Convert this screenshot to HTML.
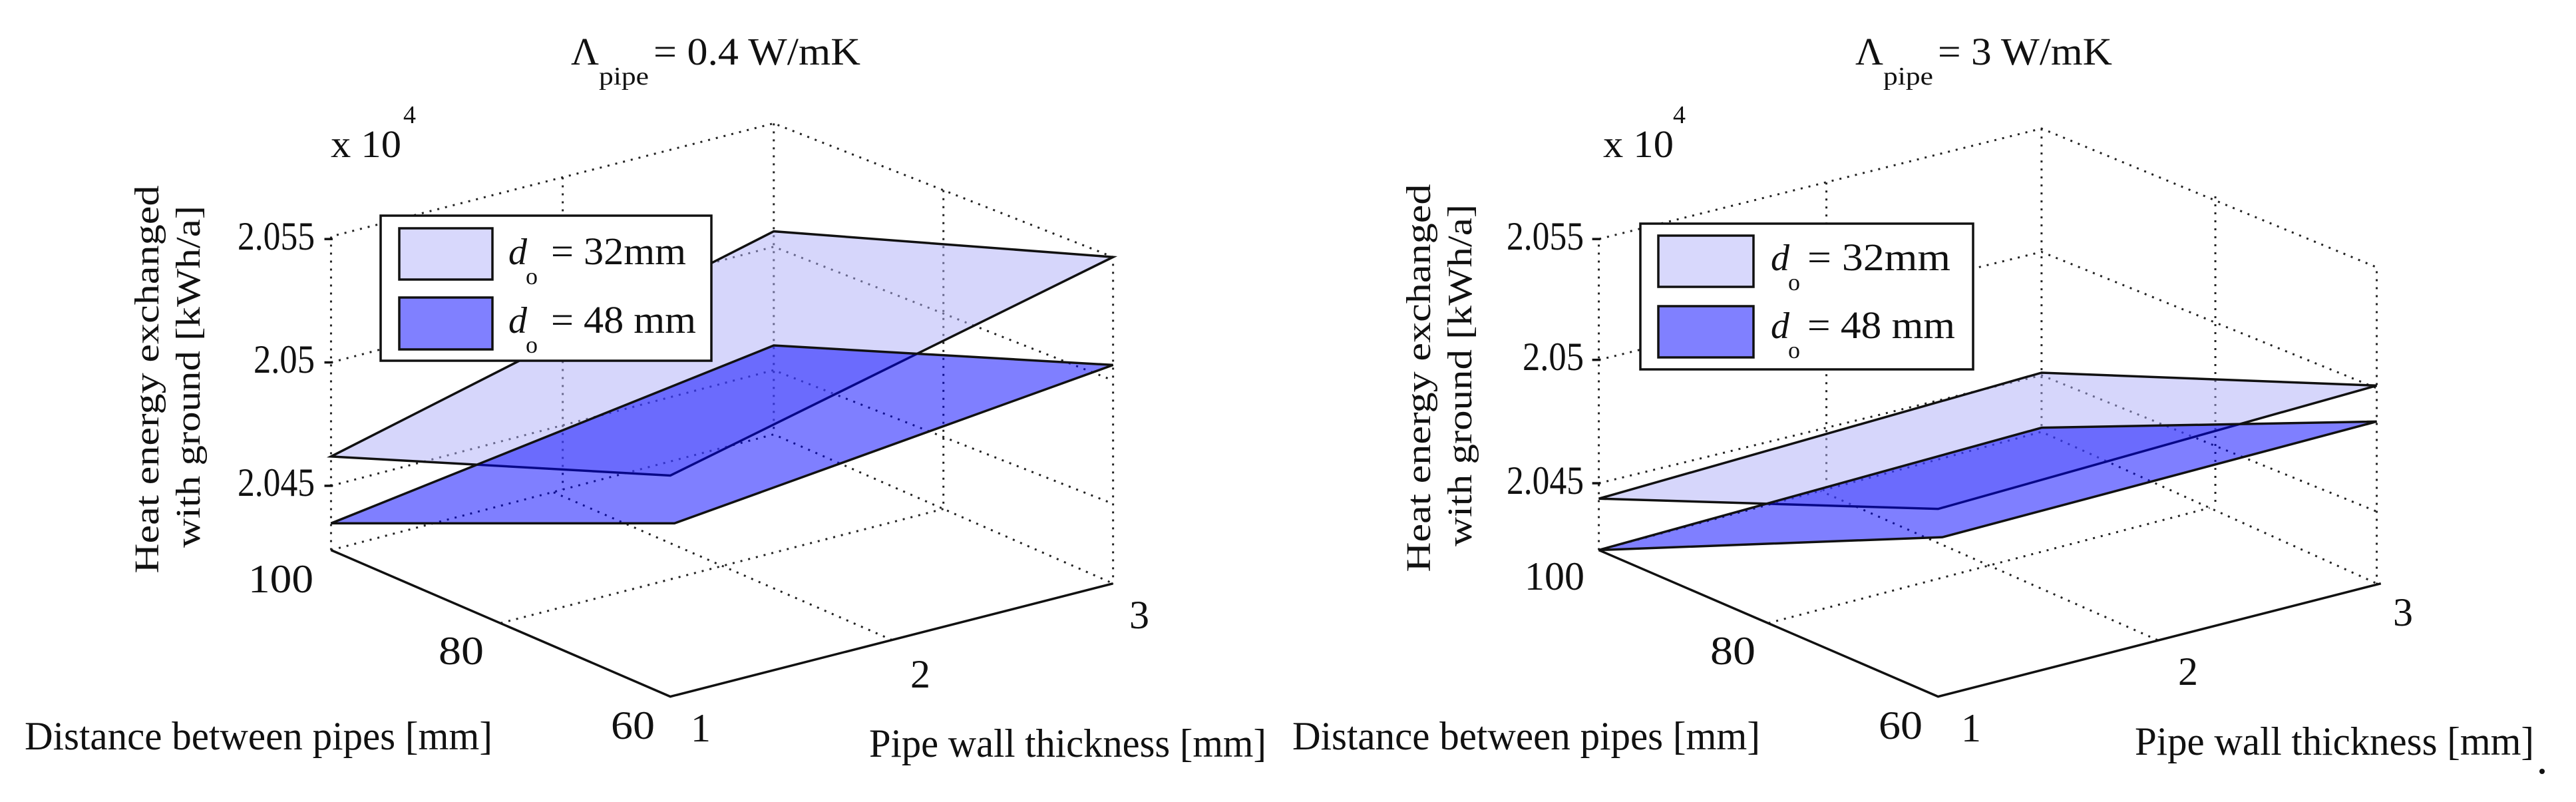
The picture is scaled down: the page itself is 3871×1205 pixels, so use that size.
<!DOCTYPE html>
<html><head><meta charset="utf-8"><style>
html,body{margin:0;padding:0;background:#fff;}
svg{display:block;}
text{font-family:"Liberation Serif",serif;fill:#111;}
</style></head><body>
<svg width="3871" height="1205" viewBox="0 0 3871 1205" xmlns="http://www.w3.org/2000/svg">
<defs>
<style>
.d{fill:none;stroke:#222;stroke-width:3;stroke-dasharray:3 9;vector-effect:non-scaling-stroke;}
.s{fill:none;stroke:#111;stroke-width:3.5;vector-effect:non-scaling-stroke;}
.lp{fill:#aeaef8;fill-opacity:0.5;stroke:#111;stroke-width:3.5;vector-effect:non-scaling-stroke;}
.dp{fill:#0000ff;fill-opacity:0.5;stroke:#111;stroke-width:3.5;vector-effect:non-scaling-stroke;}
</style>
</defs>

<g transform="matrix(1.2436 0 0 0.7724 0 0)">
  <polyline class="d" points="400,1070 400,460 935,240 1345,500 1345,1135"/>
  <line class="d" x1="935" y1="240" x2="935" y2="845"/>
  <polyline class="d" points="400,705 935,480 1345,740"/>
  <polyline class="d" points="400,945 935,720 1345,980"/>
  <polyline class="d" points="400,1070 935,845 1345,1135"/>
  <line class="d" x1="680" y1="345" x2="680" y2="952"/>
  <line class="d" x1="1140" y1="370" x2="1140" y2="990"/>
  <line class="d" x1="605" y1="1212" x2="1140" y2="990"/>
  <line class="d" x1="1078" y1="1245" x2="668" y2="957"/>
  <polygon class="lp" points="400,888 810,925 1345,500 935,450"/>
  <polygon class="dp" points="400,1018 815,1018 1345,710 935,672"/>
  <polyline class="s" points="400,1070 810,1355 1345,1135"/>
  <line class="s" x1="392" y1="465" x2="402" y2="465"/>
  <line class="s" x1="392" y1="705" x2="402" y2="705"/>
  <line class="s" x1="392" y1="945" x2="402" y2="945"/>
</g>
<rect x="572" y="324" width="497" height="218" fill="#fff" stroke="#111" stroke-width="3.5"/>
<rect x="600" y="343" width="140" height="77" fill="#d8d8fc" stroke="#111" stroke-width="3.5"/>
<rect x="600" y="447" width="140" height="78" fill="#8080ff" stroke="#111" stroke-width="3.5"/>
<text x="764" y="397" font-size="56" font-style="italic">d</text>
<text x="790" y="427" font-size="36">o</text>
<text x="828" y="397" font-size="58" textLength="203" lengthAdjust="spacingAndGlyphs">= 32mm</text>
<text x="764" y="500" font-size="56" font-style="italic">d</text>
<text x="790" y="530" font-size="36">o</text>
<text x="828" y="500" font-size="58" textLength="218" lengthAdjust="spacingAndGlyphs">= 48 mm</text>

<text x="858" y="97" font-size="58">Λ</text>
<text x="900" y="127" font-size="38" textLength="75" lengthAdjust="spacingAndGlyphs">pipe</text>
<text x="982" y="97" font-size="58" textLength="311" lengthAdjust="spacingAndGlyphs">= 0.4 W/mK</text>
<text x="497" y="236" font-size="58" textLength="106" lengthAdjust="spacingAndGlyphs">x 10</text>
<text x="606" y="185" font-size="38">4</text>
<text x="473" y="375" font-size="60" text-anchor="end" textLength="116" lengthAdjust="spacingAndGlyphs">2.055</text>
<text x="473" y="560" font-size="60" text-anchor="end" textLength="92" lengthAdjust="spacingAndGlyphs">2.05</text>
<text x="473" y="745" font-size="60" text-anchor="end" textLength="116" lengthAdjust="spacingAndGlyphs">2.045</text>
<text x="373" y="890" font-size="60" textLength="98" lengthAdjust="spacingAndGlyphs">100</text>
<text x="659" y="998" font-size="60" textLength="68" lengthAdjust="spacingAndGlyphs">80</text>
<text x="918" y="1110" font-size="60" textLength="66" lengthAdjust="spacingAndGlyphs">60</text>
<text x="1038" y="1114" font-size="60">1</text>
<text x="1368" y="1033" font-size="60">2</text>
<text x="1697" y="944" font-size="60">3</text>
<text x="37" y="1126" font-size="60" textLength="703" lengthAdjust="spacingAndGlyphs">Distance between pipes [mm]</text>
<text x="1306" y="1137" font-size="60" textLength="597" lengthAdjust="spacingAndGlyphs">Pipe wall thickness [mm]</text>
<text transform="translate(238,570) rotate(-90)" font-size="52" text-anchor="middle" textLength="583" lengthAdjust="spacingAndGlyphs">Heat energy exchanged</text>
<text transform="translate(300,566) rotate(-90)" font-size="52" text-anchor="middle" textLength="514" lengthAdjust="spacingAndGlyphs">with ground [kWh/a]</text>

<g transform="matrix(1.2436 0 0 0.7724 1930 0)">
  <polyline class="d" points="380,1070 380,465 915,250 1320,520 1320,1135"/>
  <line class="d" x1="915" y1="250" x2="915" y2="840"/>
  <polyline class="d" points="380,700 915,490 1320,755"/>
  <polyline class="d" points="380,940 915,730 1320,995"/>
  <polyline class="d" points="380,1070 915,840 1320,1135"/>
  <line class="d" x1="655" y1="355" x2="655" y2="959"/>
  <line class="d" x1="1125" y1="382" x2="1125" y2="984"/>
  <line class="d" x1="585" y1="1212" x2="1118" y2="988"/>
  <line class="d" x1="1055" y1="1245" x2="648" y2="955"/>
  <polygon class="lp" points="380,970 790,990 1320,750 915,725"/>
  <polygon class="dp" points="380,1070 795,1045 1320,820 915,832"/>
  <polyline class="s" points="380,1070 790,1355 1325,1135"/>
  <line class="s" x1="372" y1="465" x2="382" y2="465"/>
  <line class="s" x1="372" y1="700" x2="382" y2="700"/>
  <line class="s" x1="372" y1="940" x2="382" y2="940"/>
</g>
<rect x="2465" y="336" width="500" height="219" fill="#fff" stroke="#111" stroke-width="3.5"/>
<rect x="2492" y="354" width="143" height="77" fill="#d8d8fc" stroke="#111" stroke-width="3.5"/>
<rect x="2492" y="460" width="143" height="77" fill="#8080ff" stroke="#111" stroke-width="3.5"/>
<text x="2661" y="406" font-size="56" font-style="italic">d</text>
<text x="2687" y="436" font-size="36">o</text>
<text x="2716" y="406" font-size="58" textLength="215" lengthAdjust="spacingAndGlyphs">= 32mm</text>
<text x="2661" y="508" font-size="56" font-style="italic">d</text>
<text x="2687" y="538" font-size="36">o</text>
<text x="2716" y="508" font-size="58" textLength="222" lengthAdjust="spacingAndGlyphs">= 48 mm</text>

<text x="2788" y="97" font-size="58">Λ</text>
<text x="2830" y="127" font-size="38" textLength="75" lengthAdjust="spacingAndGlyphs">pipe</text>
<text x="2912" y="97" font-size="58" textLength="262" lengthAdjust="spacingAndGlyphs">= 3 W/mK</text>
<text x="2409" y="236" font-size="58" textLength="106" lengthAdjust="spacingAndGlyphs">x 10</text>
<text x="2514" y="185" font-size="38">4</text>
<text x="2380" y="375" font-size="60" text-anchor="end" textLength="116" lengthAdjust="spacingAndGlyphs">2.055</text>
<text x="2380" y="556" font-size="60" text-anchor="end" textLength="92" lengthAdjust="spacingAndGlyphs">2.05</text>
<text x="2380" y="742" font-size="60" text-anchor="end" textLength="116" lengthAdjust="spacingAndGlyphs">2.045</text>
<text x="2291" y="886" font-size="60" textLength="90" lengthAdjust="spacingAndGlyphs">100</text>
<text x="2570" y="998" font-size="60" textLength="68" lengthAdjust="spacingAndGlyphs">80</text>
<text x="2823" y="1110" font-size="60" textLength="66" lengthAdjust="spacingAndGlyphs">60</text>
<text x="2947" y="1114" font-size="60">1</text>
<text x="3273" y="1029" font-size="60">2</text>
<text x="3596" y="940" font-size="60">3</text>
<text x="1942" y="1126" font-size="60" textLength="703" lengthAdjust="spacingAndGlyphs">Distance between pipes [mm]</text>
<text x="3208" y="1134" font-size="60" textLength="600" lengthAdjust="spacingAndGlyphs">Pipe wall thickness [mm]</text>
<text transform="translate(2149,568) rotate(-90)" font-size="52" text-anchor="middle" textLength="583" lengthAdjust="spacingAndGlyphs">Heat energy exchanged</text>
<text transform="translate(2211,564) rotate(-90)" font-size="52" text-anchor="middle" textLength="514" lengthAdjust="spacingAndGlyphs">with ground [kWh/a]</text>
<circle cx="3820" cy="1159" r="4" fill="#111"/>
</svg>
</body></html>
